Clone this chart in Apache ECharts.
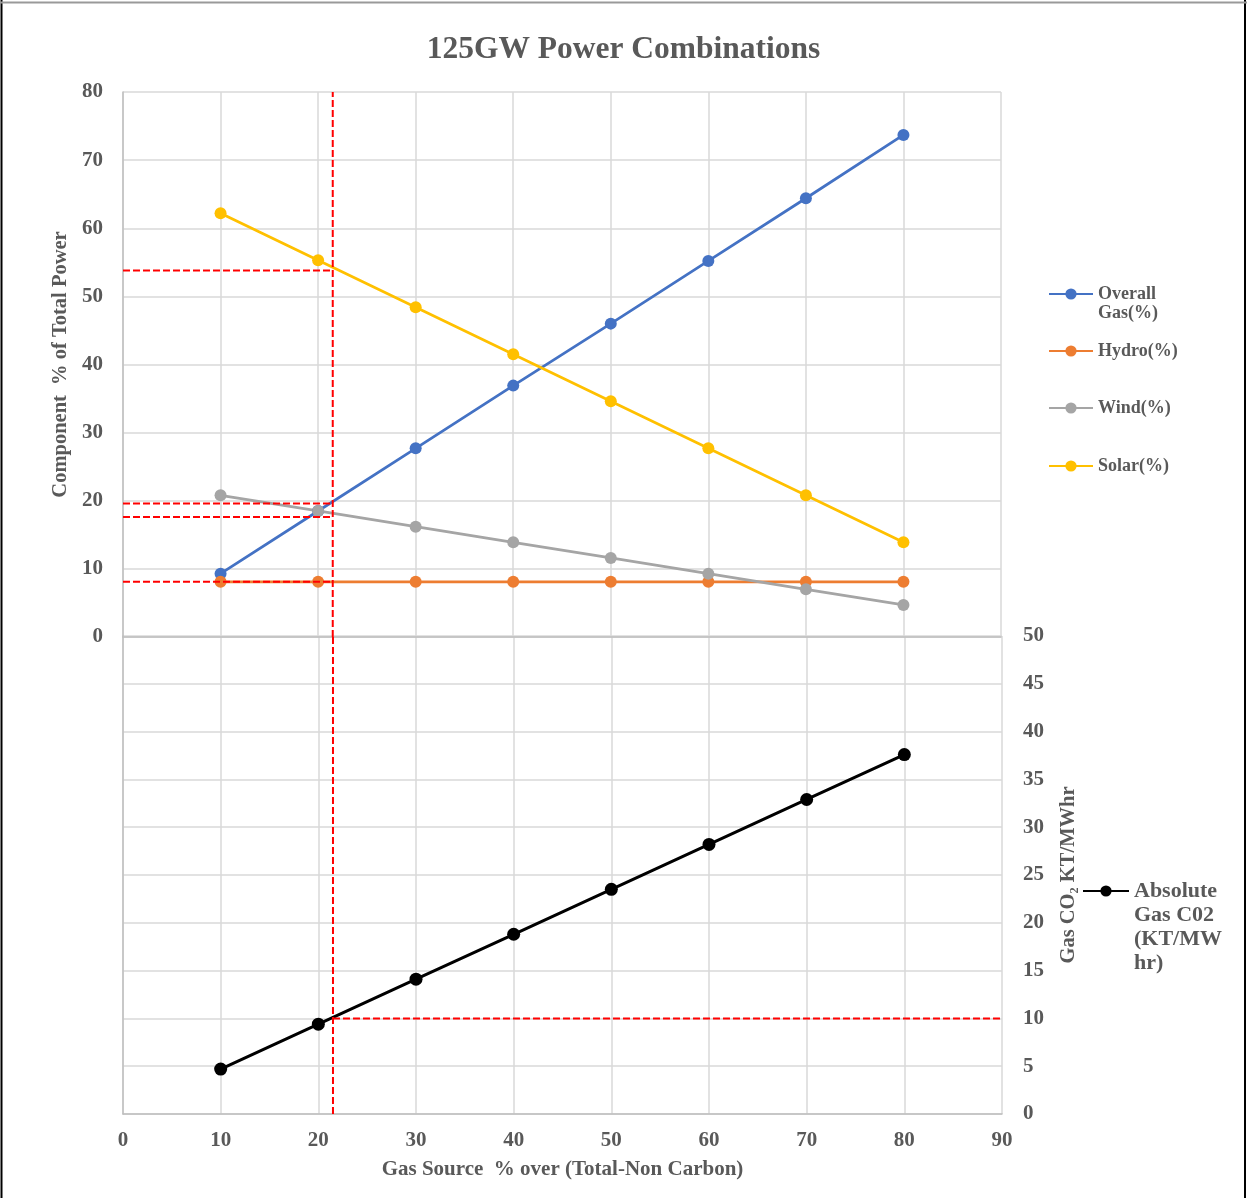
<!DOCTYPE html>
<html>
<head>
<meta charset="utf-8">
<script src="https://cdn.jsdelivr.net/npm/echarts@6/dist/echarts.min.js"></script>
<style>
html,body{margin:0;padding:0;background:#fff;}
#chart{width:1247px;height:1198px;}
</style>
</head>
<body>
<div id="chart"></div>
<script>
// ---- data ----
var gasSource = [10, 20, 30, 40, 50, 60, 70, 80];
var overallGas = [9.3, 18.5, 27.7, 36.9, 46.0, 55.2, 64.4, 73.7];
var hydro = [8.1, 8.1, 8.1, 8.1, 8.1, 8.1, 8.1, 8.1];
var wind = [20.8, 18.5, 16.2, 13.9, 11.6, 9.3, 7.0, 4.7];
var solar = [62.2, 55.3, 48.4, 41.5, 34.6, 27.7, 20.8, 13.9];
var co2 = [4.7, 9.4, 14.1, 18.8, 23.5, 28.2, 32.9, 37.6];

var guideX = 21.5;
var topGuideY = [53.8, 19.6, 17.6, 8.1];
var bottomGuideY = 10;

var seriesNames = ['Overall Gas(%)', 'Hydro(%)', 'Wind(%)', 'Solar(%)'];
var co2Name = 'Absolute Gas C02 (KT/MW hr)';
var titleText = '125GW Power Combinations';
var xName = 'Gas Source  % over (Total-Non Carbon)';
var yTopName = 'Component  % of Total Power';
var yBottomName = 'Gas CO\u2082 KT/MWhr';

// ---- helpers ----
function pairs(xs, ys) { return xs.map(function (x, i) { return [x, ys[i]]; }); }
var FONT = '"Liberation Serif", "Times New Roman", serif';
var TXT = '#595959';
var GRIDC = '#D9D9D9';
var AXC = '#BFBFBF';
var colors = ['#4472C4', '#ED7D31', '#A5A5A5', '#FFC000'];
var topValues = [overallGas, hydro, wind, solar];

var series = [];
seriesNames.forEach(function (n, i) {
  series.push({
    name: n, type: 'line', xAxisIndex: 0, yAxisIndex: 0,
    data: pairs(gasSource, topValues[i]),
    symbol: 'circle', symbolSize: 12,
    itemStyle: { color: colors[i] },
    lineStyle: { color: colors[i], width: 2.75 },
    z: 3
  });
});
series.push({
  name: co2Name, type: 'line', xAxisIndex: 1, yAxisIndex: 1,
  data: pairs(gasSource, co2),
  symbol: 'circle', symbolSize: 13,
  itemStyle: { color: '#000' },
  lineStyle: { color: '#000', width: 3 },
  z: 3
});

function guide(name, xi, data) {
  return {
    name: name, type: 'line', xAxisIndex: xi, yAxisIndex: xi,
    data: data, showSymbol: false, symbol: 'none', silent: true,
    lineStyle: { color: '#FF0000', width: 2, type: [7, 3] },
    z: 5, animation: false
  };
}
series.push(guide('g_v_top', 0, [[guideX, 0], [guideX, 80]]));
series.push(guide('g_v_bot', 1, [[guideX, 0], [guideX, 50]]));
topGuideY.forEach(function (y, i) {
  series.push(guide('g_h_' + i, 0, [[0, y], [guideX, y]]));
});
series.push(guide('g_h_bot', 1, [[guideX, bottomGuideY], [90, bottomGuideY]]));

var tickFont = { fontFamily: FONT, fontWeight: 'bold', fontSize: 21, color: TXT };

function legendItem(name, top, left, fmt, fs, lh, iw) {
  return {
    data: [name], top: top, left: left, padding: 0,
    itemWidth: iw, itemHeight: 14, itemGap: 0, selectedMode: false,
    formatter: function () { return fmt; },
    textStyle: { fontFamily: FONT, fontWeight: 'bold', fontSize: fs, lineHeight: lh, color: TXT }
  };
}

var option = {
  animation: false,
  backgroundColor: '#fff',
  title: {
    text: titleText, left: 'center', top: 34, padding: 0,
    textStyle: { fontFamily: FONT, fontWeight: 'bold', fontSize: 31.5, color: TXT }
  },
  legend: [
    legendItem(seriesNames[0], 265.5, 1048, '\nOverall\nGas(%)', 18, 19, 44),
    legendItem(seriesNames[1], 341.5, 1048, 'Hydro(%)', 18, 19, 44),
    legendItem(seriesNames[2], 398.5, 1048, 'Wind(%)', 18, 19, 44),
    legendItem(seriesNames[3], 456.5, 1048, 'Solar(%)', 18, 19, 44),
    legendItem(co2Name, 807, 1082, '\n\n\nAbsolute\nGas C02\n(KT/MW\nhr)', 22, 24, 46)
  ],
  grid: [
    { left: 123, top: 92, width: 878, height: 545, containLabel: false },
    { left: 123, top: 636, width: 879, height: 478, containLabel: false }
  ],
  xAxis: [
    {
      type: 'value', gridIndex: 0, min: 0, max: 90, interval: 10,
      axisLabel: { show: false }, axisTick: { show: false },
      axisLine: { show: true, lineStyle: { color: AXC, width: 1.5 } },
      splitLine: { show: true, lineStyle: { color: GRIDC, width: 1.5 } }
    },
    {
      type: 'value', gridIndex: 1, min: 0, max: 90, interval: 10,
      axisLabel: Object.assign({ margin: 16 }, tickFont), axisTick: { show: false },
      axisLine: { show: true, lineStyle: { color: AXC, width: 1.5 } },
      splitLine: { show: true, lineStyle: { color: GRIDC, width: 1.5 } },
      name: xName, nameLocation: 'middle', nameGap: 45,
      nameTextStyle: { fontFamily: FONT, fontWeight: 'bold', fontSize: 21, color: TXT }
    }
  ],
  yAxis: [
    {
      type: 'value', gridIndex: 0, min: 0, max: 80, interval: 10,
      axisLabel: Object.assign({ margin: 20 }, tickFont), axisTick: { show: false },
      axisLine: { show: true, lineStyle: { color: AXC, width: 1.5 } },
      splitLine: { show: true, lineStyle: { color: GRIDC, width: 1.5 } },
      name: yTopName, nameLocation: 'middle', nameGap: 50, nameRotate: 90,
      nameTextStyle: { fontFamily: FONT, fontWeight: 'bold', fontSize: 20.5, color: TXT }
    },
    {
      type: 'value', gridIndex: 1, position: 'right', min: 0, max: 50, interval: 5,
      axisLabel: Object.assign({ margin: 21 }, tickFont), axisTick: { show: false },
      axisLine: { show: true, lineStyle: { color: AXC, width: 1.5 } },
      splitLine: { show: true, lineStyle: { color: GRIDC, width: 1.5 } },
      name: yBottomName, nameLocation: 'middle', nameGap: 56, nameRotate: 90,
      nameTextStyle: { fontFamily: FONT, fontWeight: 'bold', fontSize: 20.5, color: TXT }
    }
  ],
  graphic: [
    { type: 'line', silent: true, shape: { x1: 1.5, y1: 0, x2: 1.5, y2: 1198 }, style: { stroke: '#000', lineWidth: 2 } },
    { type: 'line', silent: true, shape: { x1: 1245, y1: 0, x2: 1245, y2: 1198 }, style: { stroke: '#000', lineWidth: 2 } },
    { type: 'line', silent: true, shape: { x1: 0, y1: 2.5, x2: 1247, y2: 2.5 }, style: { stroke: '#999', lineWidth: 2 } }
  ],
  series: series
};

var chart = echarts.init(document.getElementById('chart'), null, { renderer: 'canvas' });
chart.setOption(option);
</script>
</body>
</html>
